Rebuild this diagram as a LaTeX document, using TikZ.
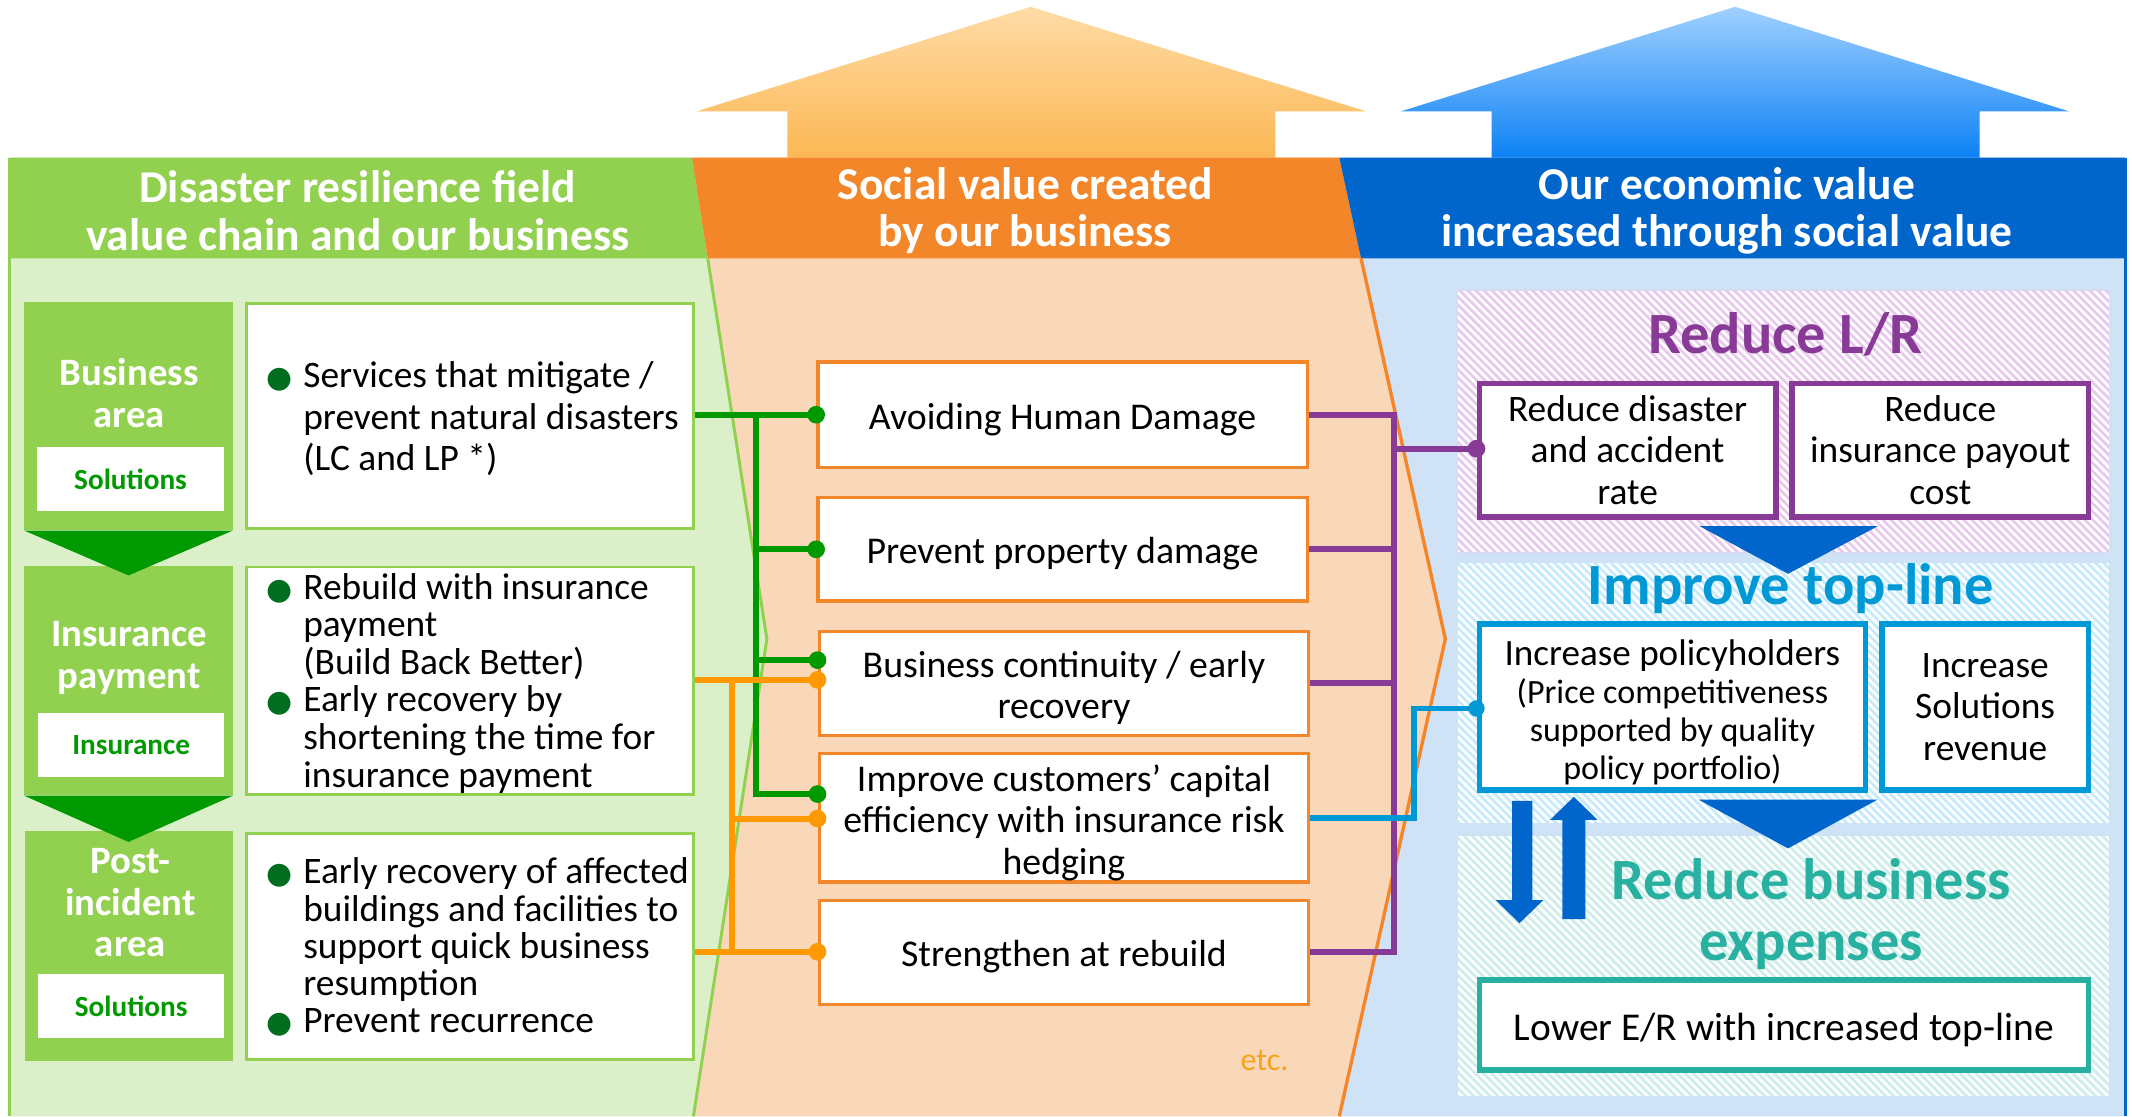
\documentclass[tikz,border=0pt]{standalone}
\usepackage{fontspec}
\setmainfont{Carlito}
\newfontfamily\djv{DejaVu Sans}
\usetikzlibrary{patterns.meta,calc}
\definecolor{hgreen}{HTML}{92D050}
\definecolor{dgreen}{HTML}{009900}
\definecolor{bulgreen}{HTML}{006E1E}
\definecolor{bgreen}{HTML}{DBEFC9}
\definecolor{horange}{HTML}{F4862A}
\definecolor{borange}{HTML}{F9D8BA}
\definecolor{lorange}{HTML}{FF9900}
\definecolor{hblue}{HTML}{0066CC}
\definecolor{bblue}{HTML}{D0E3F6}
\definecolor{purp}{HTML}{873A96}
\definecolor{cyanb}{HTML}{0099D6}
\definecolor{tealb}{HTML}{28B0A0}
\definecolor{hpink}{HTML}{E9C8EE}
\definecolor{hcyan}{HTML}{C5EAFB}
\definecolor{hteal}{HTML}{CDEDEA}
\definecolor{etcor}{HTML}{F7A21B}
\definecolor{oatop}{HTML}{FEDBA6}
\definecolor{oabot}{HTML}{FCB752}
\definecolor{batop}{HTML}{A0D0FF}
\definecolor{babot}{HTML}{0A80F5}
\newcommand\fs[2]{\fontsize{#1}{#2}\selectfont}
\newcommand\gb{\makebox[27pt][l]{\textcolor{bulgreen}{\djv\fontsize{22}{22}\selectfont ●}}}
\newcommand\gi{\hspace*{27pt}}
\newcommand\sm{\fs{25}{27.5}}
\begin{document}
\begin{tikzpicture}[x=1pt,y=-1pt,
  tbox/.style={draw=hgreen, line width=2.2pt, fill=white, minimum width=329, inner sep=0pt},
  btxt/.style={anchor=west, align=left, inner sep=0pt},
  lab/.style={fill=hgreen, minimum width=153, inner sep=0pt},
  labtxt/.style={text=white, font=\bfseries\fs{28.5}{30.5}, align=center, inner sep=0pt},
  wlab/.style={fill=white, minimum width=137, minimum height=47, inner sep=0pt, text=dgreen, font=\bfseries\fs{21.5}{22}},
  mbox/.style={draw=horange, line width=2.5pt, fill=white, inner sep=0pt, minimum width=360},
  mtxt/.style={align=center, inner sep=0pt, font=\fs{27.8}{30.4}},
  rbox/.style={line width=4.2pt, fill=white, align=center, inner sep=0pt, font=\fs{27.5}{30.5}},
  rtxt/.style={align=center, inner sep=0pt},
  htxt/.style={text=white, font=\bfseries\fs{33.5}{35}, align=center, inner sep=0pt},
  bigt/.style={font=\bfseries\fs{43}{45}, align=center, inner sep=0pt},
  gline/.style={draw=dgreen, line width=4.4pt},
  oline/.style={draw=lorange, line width=4.4pt},
  pline/.style={draw=purp, line width=4.4pt},
  cline/.style={draw=cyanb, line width=4pt},
  hatch/.style={fill=white, postaction={pattern={Lines[angle=-45,distance=4.2pt,line width=2pt]}, pattern color=#1}}
]
\useasboundingbox (0,0) rectangle (1568,821);
\fill[white] (0,0) rectangle (1568,821);

% top arrows
\shade[top color=oatop, bottom color=oabot] (758,5) -- (1005,82) -- (938,82) -- (938,118) -- (579,118) -- (579,82) -- (512,82) -- cycle;
\shade[top color=batop, bottom color=babot] (1276,5) -- (1522,82) -- (1456,82) -- (1456,118) -- (1097,118) -- (1097,82) -- (1030,82) -- cycle;

% panels
\fill[borange] (509,116) -- (985,116) -- (1063,470) -- (985,821) -- (510,821) -- (564,470) -- cycle;
\fill[bblue] (985,116) -- (1563,116) -- (1563,821) -- (985,821) -- (1063,470) -- cycle;
\fill[bgreen] (7,116) -- (509,116) -- (564,470) -- (510,821) -- (7,821) -- cycle;
\fill[hgreen] (7,116) -- (509,116) -- (520.5,190) -- (7,190) -- cycle;
\fill[horange] (509,116) -- (985,116) -- (1001,190) -- (520.5,190) -- cycle;
\fill[hblue] (985,116) -- (1563,116) -- (1563,190) -- (1001,190) -- cycle;
\draw[hgreen, line width=2.2] (520.5,190) -- (564,470) -- (510,821);
\draw[horange, line width=2.5] (1001,190) -- (1063,470) -- (985,821);
\draw[hgreen, line width=2] (7,116) -- (7,821);
\draw[hblue, line width=2] (1563,116) -- (1563,821);

\node[htxt] (hg) at (263,155) {Disaster resilience field\\value chain and our business};
\node[htxt] (ho) at (754,155) {Social value created\\by our business};
\node[htxt] (hb) at (1270,155) {Our economic value\\increased through social value};

% hatched regions
\path[hatch=hpink] (1072,214) rectangle (1551,406);
\path[hatch=hcyan] (1072,414) rectangle (1551,605);
\path[hatch=hteal] (1072,615) rectangle (1551,806);

% left labels
\node[lab, minimum height=168] (la1) at (94.5,306) {};
\node[lab, minimum height=169] (la2) at (94.5,500.5) {};
\node[lab, minimum height=169] (la3) at (95,695.5) {};
\fill[dgreen] (la1.south west) -- (la1.south east) -- ($(la1.south)+(0,33)$) -- cycle;
\fill[dgreen] (la2.south west) -- (la2.south east) -- ($(la2.south)+(0,34)$) -- cycle;
\node[labtxt] (lt1) at (95,289) {Business\\area};
\node[wlab] (lw1) at (96,352.5) {Solutions};
\node[labtxt] (lt2) at (95,484) {Insurance\\payment};
\node[wlab] (lw2) at (96.5,548) {Insurance};
\node[labtxt] (lt3) at (96,664) {Post-\\incident\\area};
\node[wlab] (lw3) at (96.5,740) {Solutions};

% left text boxes
\node[tbox, minimum height=166] (b1) at (345.5,306) {};
\node[btxt, font=\fs{27.5}{30.5}] (b1t) at ($(b1.west)+(16,2)$) {\gb Services that mitigate /\\\gi prevent natural disasters\\\gi (LC and LP *)};
\node[tbox, minimum height=167] (b2) at (345.5,500.5) {};
\node[btxt, font=\fs{27.5}{27.6}] (b2t) at ($(b2.west)+(16,2)$) {\gb Rebuild with insurance\\\gi payment\\\gi (Build Back Better)\\\gb Early recovery by\\\gi shortening the time for\\\gi insurance payment};
\node[tbox, minimum height=166] (b3) at (345.5,696) {};
\node[btxt, font=\fs{27.5}{27.3}] (b3t) at ($(b3.west)+(16,0.5)$) {\gb Early recovery of affected\\\gi buildings and facilities to\\\gi support quick business\\\gi resumption\\\gb Prevent recurrence};

% middle boxes
\node[mbox, minimum height=77.5] (m1) at (781.5,305) {};
\node[mbox, minimum height=76] (m2) at (781.5,404) {};
\node[mbox, minimum height=76.5] (m3) at (782.5,502.5) {};
\node[mbox, minimum height=94.5] (m4) at (782.5,601.5) {};
\node[mbox, minimum height=76.5] (m5) at (782.5,700.5) {};
\node[mtxt] (m1t) at ($(m1)+(0,3.5)$) {Avoiding Human Damage};
\node[mtxt] (m2t) at ($(m2)+(0,3)$) {Prevent property damage};
\node[mtxt] (m3t) at ($(m3)+(0,3.5)$) {Business continuity / early\\recovery};
\node[mtxt] (m4t) at ($(m4)+(0,3.5)$) {Improve customers’ capital\\efficiency with insurance risk\\hedging};
\node[mtxt] (m5t) at ($(m5)+(0,3)$) {Strengthen at rebuild};
\node[text=etcor, font=\fs{23.5}{24}, inner sep=0pt] (etc) at (930,780) {etc.};

% right boxes
\node[bigt, text=purp] (tlr) at (1313,246) {Reduce L/R};
\node[rbox, draw=purp, minimum width=218, minimum height=98] (r1) at (1197,331) {Reduce disaster\\and accident\\rate};
\node[rbox, draw=purp, minimum width=218, minimum height=98] (r2) at (1427,331) {Reduce\\insurance payout\\cost};
\node[bigt, text=cyanb] (ttl) at (1317,433) {Improve top-line};
\node[rbox, draw=cyanb, minimum width=284, minimum height=122] (i1) at (1230,520) {};
\node[rtxt, font=\fs{27.3}{28}] (i1t) at ($(i1)+(0,4)$) {Increase policyholders\\\sm (Price competitiveness\\\sm supported by quality\\\sm policy portfolio)};
\node[rbox, draw=cyanb, minimum width=152, minimum height=122] (i2) at (1460,520) {Increase\\Solutions\\revenue};
\node[bigt, text=tealb] (tbe) at (1332,672) {Reduce business\\expenses};
\node[rbox, draw=tealb, minimum width=448, minimum height=66] (e1) at (1312,754) {};
\node[rtxt, font=\fs{29}{30}] (e1t) at ($(e1)+(0,3.5)$) {Lower E/R with increased top-line};

% blue triangles and arrows
\fill[hblue] (1250,387) -- (1381,387) -- (1315,422) -- cycle;
\fill[hblue] (1249,588) -- (1381,588) -- (1315,624) -- cycle;
\fill[hblue] (1112,589) -- (1127,589) -- (1127,662) -- (1135,662) -- (1117.5,679) -- (1100,662) -- (1112,662) -- cycle;
\fill[hblue] (1149,676) -- (1166,676) -- (1166,603) -- (1175,603) -- (1157.5,586) -- (1140,603) -- (1149,603) -- cycle;

% green connectors
\coordinate (gx) at (556,0);
\coordinate (m3g) at ($(m3.west)+(0,-17)$);
\coordinate (m4g) at ($(m4.west)+(0,-17.5)$);
\draw[gline] (b1.east |- m1.west) -- (m1.west);
\draw[gline] (gx |- m1.west) -- (gx |- m4g) -- (m4g);
\draw[gline] (gx |- m2.west) -- (m2.west);
\draw[gline] (gx |- m3g) -- (m3g);
\foreach \p in {m1.west, m2.west, m3g, m4g} \fill[dgreen] (\p) circle[radius=6.5pt];

% orange connectors
\coordinate (ox) at (538,0);
\coordinate (m3o) at ($(m3.west)+(0,-2.5)$);
\coordinate (m4o) at ($(m4.west)+(0,0.5)$);
\coordinate (m5o) at ($(m5.west)+(0,-0.5)$);
\draw[oline] (b2.east |- m3o) -- (m3o);
\draw[oline] (ox |- m3o) -- (ox |- m5o);
\draw[oline] (ox |- m4o) -- (m4o);
\draw[oline] (b3.east |- m5o) -- (m5o);
\foreach \p in {m3o, m4o, m5o} \fill[lorange] (\p) circle[radius=6.5pt];

% purple connectors
\coordinate (px) at (1025,0);
\coordinate (r1p) at ($(r1.west)+(0,-1)$);
\draw[pline] (m1.east) -- (px |- m1.east) -- (px |- m5.east) -- (m5.east);
\draw[pline] (m2.east) -- (px |- m2.east);
\draw[pline] (m3.east) -- (px |- m3.east);
\draw[pline] (px |- r1p) -- (r1p);
\fill[purp] (r1p) circle[radius=6.5pt];

% cyan connector
\coordinate (cx) at (1040,0);
\coordinate (i1c) at ($(i1.west)+(0,1)$);
\draw[cline] (m4.east) -- (cx |- m4.east) -- (cx |- i1c) -- (i1c);
\fill[cyanb] (i1c) circle[radius=6pt];
\end{tikzpicture}
\end{document}
